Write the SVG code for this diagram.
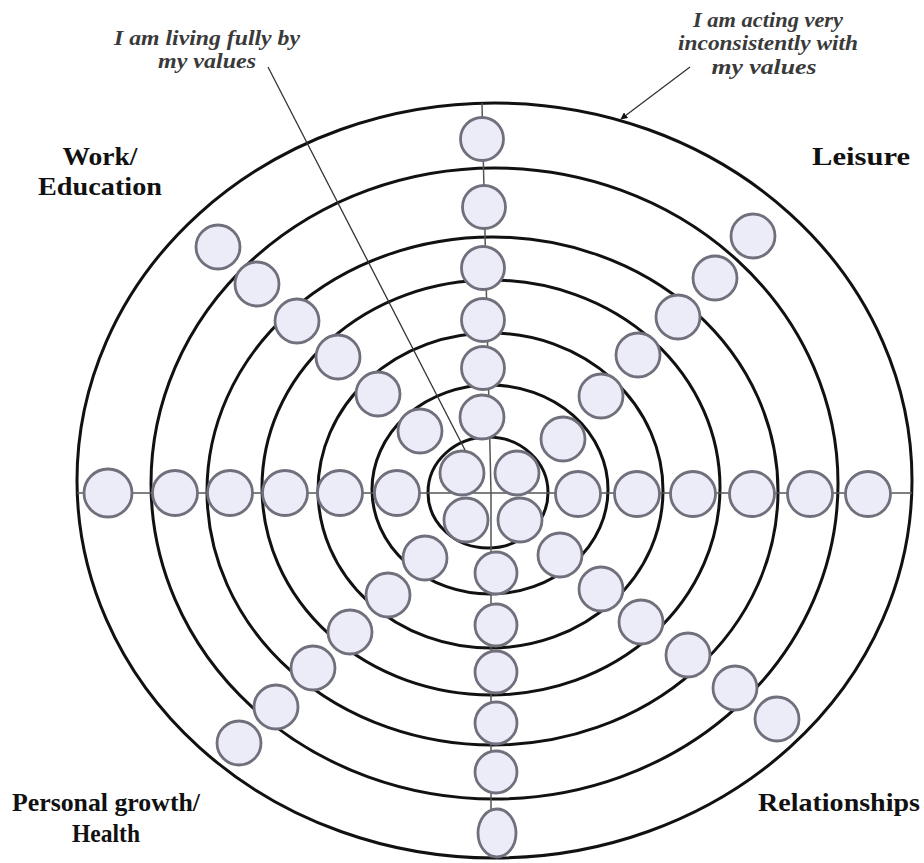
<svg xmlns="http://www.w3.org/2000/svg" width="924" height="863" viewBox="0 0 924 863">
<defs>
<style>
.ring{fill:none;stroke:#111;stroke-width:3}
.axis{fill:none;stroke:#555;stroke-width:1.5}
.dot{fill:#ececf9;stroke:#70707c;stroke-width:2.8}
.cap{font-family:"Liberation Serif","Times New Roman",serif;font-weight:bold;font-size:25px;fill:#111;text-anchor:middle}
.note{font-family:"Liberation Serif","Times New Roman",serif;font-style:italic;font-weight:bold;font-size:20px;fill:#3a3a3a;text-anchor:middle}
.ptr{fill:none;stroke:#333;stroke-width:1.3}
</style>
<marker id="ah" viewBox="0 0 10 10" refX="9" refY="5" markerWidth="7" markerHeight="7" orient="auto" markerUnits="userSpaceOnUse">
<path d="M0,0 L10,5 L0,10 z" fill="#111"/>
</marker>
</defs>
<rect width="924" height="863" fill="#fff"/>
<g id="rings">
<ellipse class="ring" cx="494.5" cy="480.5" rx="417.5" ry="377.5"/>
<ellipse class="ring" cx="494.5" cy="483.5" rx="343.5" ry="315.5"/>
<ellipse class="ring" cx="492.5" cy="491" rx="285.5" ry="254"/>
<ellipse class="ring" cx="491" cy="487.5" rx="229" ry="207.5"/>
<ellipse class="ring" cx="490.5" cy="490.5" rx="172.5" ry="157.5"/>
<ellipse class="ring" cx="490" cy="489.5" rx="118" ry="104.5"/>
<ellipse class="ring" cx="488" cy="492.5" rx="60" ry="55.5" stroke-width="3.5"/>
</g>
<g id="connectors">
<path class="axis" d="M77,493 L912,493"/>
<path class="axis" d="M482,103 L491,493 L491,858"/>
</g>
<g id="work-education">
<circle class="dot" cx="218" cy="247" r="22"/>
<circle class="dot" cx="257" cy="284" r="22"/>
<circle class="dot" cx="297" cy="321" r="22"/>
<circle class="dot" cx="338" cy="357" r="22"/>
<circle class="dot" cx="378" cy="394" r="22"/>
<circle class="dot" cx="420" cy="431" r="22"/>
</g>
<g id="leisure">
<circle class="dot" cx="753" cy="236" r="22"/>
<circle class="dot" cx="715" cy="278" r="22"/>
<circle class="dot" cx="678" cy="317" r="22"/>
<circle class="dot" cx="638" cy="355" r="22"/>
<circle class="dot" cx="601" cy="396" r="22"/>
<circle class="dot" cx="563" cy="439" r="22"/>
</g>
<g id="personal-growth">
<circle class="dot" cx="425" cy="558" r="22"/>
<circle class="dot" cx="388" cy="595" r="22"/>
<circle class="dot" cx="350" cy="632" r="22"/>
<circle class="dot" cx="313" cy="668" r="22"/>
<circle class="dot" cx="276" cy="707" r="22"/>
<circle class="dot" cx="239" cy="743" r="22"/>
</g>
<g id="relationships">
<circle class="dot" cx="560" cy="555" r="22"/>
<circle class="dot" cx="601" cy="589" r="22"/>
<circle class="dot" cx="641" cy="622" r="22"/>
<circle class="dot" cx="688" cy="655" r="22"/>
<circle class="dot" cx="735" cy="688" r="22"/>
<circle class="dot" cx="777" cy="719" r="22"/>
</g>
<g id="left-axis">
<circle class="dot" cx="108" cy="493" r="24"/>
<circle class="dot" cx="175" cy="493" r="22.5"/>
<circle class="dot" cx="230" cy="493" r="22.5"/>
<circle class="dot" cx="285" cy="493" r="22.5"/>
<circle class="dot" cx="340" cy="493" r="22.5"/>
<circle class="dot" cx="397" cy="493" r="22.5"/>
</g>
<g id="right-axis">
<circle class="dot" cx="578" cy="494" r="22.5"/>
<circle class="dot" cx="637" cy="494" r="22.5"/>
<circle class="dot" cx="693" cy="494" r="22.5"/>
<circle class="dot" cx="752" cy="494" r="22.5"/>
<circle class="dot" cx="810" cy="494" r="22.5"/>
<circle class="dot" cx="868" cy="494" r="22.5"/>
</g>
<g id="top-axis">
<circle class="dot" cx="482" cy="139" r="21.5"/>
<circle class="dot" cx="484" cy="207" r="21.5"/>
<circle class="dot" cx="483" cy="268" r="21.5"/>
<circle class="dot" cx="483" cy="320" r="21.5"/>
<circle class="dot" cx="483" cy="368" r="21.5"/>
<circle class="dot" cx="482" cy="417" r="22"/>
</g>
<g id="bottom-axis">
<circle class="dot" cx="496" cy="573" r="21"/>
<circle class="dot" cx="496" cy="625" r="21"/>
<circle class="dot" cx="496" cy="672" r="21"/>
<circle class="dot" cx="496" cy="723" r="21"/>
<circle class="dot" cx="496" cy="772" r="21"/>
<ellipse class="dot" cx="497" cy="833" rx="19" ry="24"/>
</g>
<g id="centre">
<circle class="dot" cx="462" cy="473" r="22"/>
<circle class="dot" cx="517" cy="473" r="22"/>
<circle class="dot" cx="466" cy="520" r="22"/>
<circle class="dot" cx="520" cy="520" r="22"/>
</g>
<g id="annotations">
<path class="ptr" d="M268,67 L465,450"/>
<path class="ptr" d="M690,67 L621,119" marker-end="url(#ah)"/>
</g>
<g id="label-living">
<text class="note" x="207" y="45" textLength="186" lengthAdjust="spacingAndGlyphs">I am living fully by</text>
<text class="note" x="207" y="68" textLength="98" lengthAdjust="spacingAndGlyphs">my values</text>
</g>
<g id="label-acting">
<text class="note" x="768" y="27" textLength="150" lengthAdjust="spacingAndGlyphs">I am acting very</text>
<text class="note" x="768" y="50" textLength="180" lengthAdjust="spacingAndGlyphs">inconsistently with</text>
<text class="note" x="764" y="74" textLength="105" lengthAdjust="spacingAndGlyphs">my values</text>
</g>
<g id="label-work">
<text class="cap" x="100" y="165" textLength="75" lengthAdjust="spacingAndGlyphs">Work/</text>
<text class="cap" x="100" y="195" textLength="124" lengthAdjust="spacingAndGlyphs">Education</text>
</g>
<g id="label-leisure">
<text class="cap" x="861" y="165" textLength="98" lengthAdjust="spacingAndGlyphs">Leisure</text>
</g>
<g id="label-personal">
<text class="cap" x="106" y="811" textLength="188" lengthAdjust="spacingAndGlyphs">Personal growth/</text>
<text class="cap" x="106" y="842" textLength="68" lengthAdjust="spacingAndGlyphs">Health</text>
</g>
<g id="label-relationships">
<text class="cap" x="839" y="811" textLength="162" lengthAdjust="spacingAndGlyphs">Relationships</text>
</g>
</svg>
